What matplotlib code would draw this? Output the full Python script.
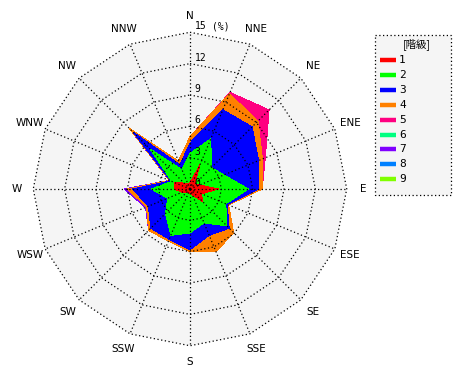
import numpy as np
import matplotlib
matplotlib.use("Agg")
import matplotlib.pyplot as plt
from matplotlib.patches import Polygon, Rectangle

plt.rcParams['font.family'] = ['DejaVu Sans', 'Noto Sans CJK JP']

# ---------------- data ----------------
directions = ["N", "NNE", "NE", "ENE", "E", "ESE", "SE", "SSE",
              "S", "SSW", "SW", "WSW", "W", "WNW", "NW", "NNW"]
class_labels = ["1", "2", "3", "4", "5", "6", "7", "8", "9"]
class_colors = ["#ff0000", "#00ff00", "#0000ff", "#ff8000", "#ff0080",
                "#00ff80", "#8000ff", "#0080ff", "#80ff00"]

# frequency (%) of each class per direction (N clockwise)
cls1 = [0.6, 2.5, 0.6, 1.0, 2.7, 1.2, 1.7, 0.6, 0.4, 0.4, 0.4, 0.8, 1.5, 1.6, 0.8, 0.5]
cls2 = [2.8, 2.7, 2.3, 2.5, 2.9, 2.5, 3.3, 2.9, 3.8, 4.4, 2.9, 1.5, 2.2, 0.3, 4.6, 1.5]
cls3 = [1.0, 3.0, 5.5, 3.6, 1.0, 0.15, 0.3, 1.3, 1.6, 0.4, 2.0, 2.0, 1.8, 0.1, 2.3, 0.5]
cls4 = [0.6, 1.65, 0.8, 0.4, 0.3, 0.15, 0.6, 1.7, 0.2, 0.2, 0.3, 0.2, 0.5, 0.1, 0.5, 0.4]
cls5 = [0.0, 0.15, 1.5, 0.3, 0.0, 0.0, 0.0, 0.0, 0.0, 0.0, 0.0, 0.0, 0.0, 0.0, 0.0, 0.0]
cls6 = [0.0, 0.0, 0.0, 0.0, 0.0, 0.0, 0.0, 0.0, 0.0, 0.0, 0.0, 0.0, 0.0, 0.0, 0.0, 0.0]
cls7 = [0.0, 0.0, 0.0, 0.0, 0.0, 0.0, 0.0, 0.0, 0.0, 0.0, 0.0, 0.1, 0.3, 0.05, 0.0, 0.0]
cls8 = [0.0, 0.0, 0.0, 0.0, 0.0, 0.0, 0.0, 0.0, 0.0, 0.0, 0.0, 0.0, 0.0, 0.0, 0.0, 0.0]
cls9 = [0.0, 0.0, 0.0, 0.0, 0.0, 0.0, 0.0, 0.0, 0.0, 0.0, 0.0, 0.0, 0.0, 0.0, 0.0, 0.0]
classes = [cls1, cls2, cls3, cls4, cls5, cls6, cls7, cls8, cls9]

ring_values = [3, 6, 9, 12, 15]
ring_labels = ["3", "6", "9", "12", "15"]
unit_label = "(%)"
legend_title = "[階級]"

# ---------------- figure ----------------
W_PX, H_PX = 470, 380
fig = plt.figure(figsize=(W_PX / 100, H_PX / 100), dpi=100)
fig.patch.set_facecolor("white")

R = 17.0           # axes half-range in data units (%)
PX = 10.45         # pixels per %
CX, CY = 190, 189  # center (pixels from left / top)
side = 2 * R * PX
ax = fig.add_axes([(CX - R * PX) / W_PX, (H_PX - CY - R * PX) / H_PX,
                   side / W_PX, side / H_PX])
ax.set_xlim(-R, R)
ax.set_ylim(-R, R)
ax.axis("off")

theta = np.deg2rad(np.arange(len(directions)) * 360.0 / len(directions))
sx, sy = np.sin(theta), np.cos(theta)

rmax = ring_values[-1]
ax.add_patch(Polygon(np.column_stack([rmax * sx, rmax * sy]), closed=True,
                     facecolor="#f5f5f5", edgecolor="none", zorder=0))

cum = np.cumsum(np.array(classes, dtype=float), axis=0)
for k in range(len(classes) - 1, -1, -1):
    r = cum[k]
    ax.add_patch(Polygon(np.column_stack([r * sx, r * sy]), closed=True,
                         facecolor=class_colors[k], edgecolor="none",
                         antialiased=False, zorder=1 + (len(classes) - k) * 0.01))

dot = (0, (1, 2))
for rv in ring_values:
    xs = np.append(rv * sx, rv * sx[0])
    ys = np.append(rv * sy, rv * sy[0])
    ax.plot(xs, ys, color="black", lw=0.9, ls=dot, zorder=3)
for i in range(len(directions)):
    ax.plot([0, rmax * sx[i]], [0, rmax * sy[i]], color="black", lw=0.9, ls=dot, zorder=3)

for rv, lab in zip(ring_values, ring_labels):
    ax.text(0.45, rv + 0.1, lab, fontsize=7, ha="left", va="bottom", zorder=4,
            family="DejaVu Sans Mono")
ax.text(2.1, rmax + 0.1, unit_label, fontsize=7, ha="left", va="bottom", zorder=4,
        family="DejaVu Sans Mono")
ax.text(0.45, 0.1, "0", fontsize=7, ha="left", va="bottom", zorder=4,
        family="DejaVu Sans Mono")

lab_r = 16.6
for i, d in enumerate(directions):
    ax.text(lab_r * sx[i], lab_r * sy[i], d, fontsize=7.5, ha="center", va="center",
            clip_on=False)

# ---------------- legend ----------------
lax = fig.add_axes([0, 0, 1, 1])
lax.set_xlim(0, W_PX)
lax.set_ylim(H_PX, 0)
lax.axis("off")
lax.patch.set_alpha(0)
lax.add_patch(Rectangle((375, 35), 76, 160, facecolor="#f5f5f5",
                        edgecolor="black", lw=0.9, ls=dot))
lax.text(417, 44, legend_title, fontsize=7.5, ha="center", va="center",
         family=["Noto Sans CJK JP", "DejaVu Sans"])
for i, (lab, col) in enumerate(zip(class_labels, class_colors)):
    y = 60 + i * 14.9
    lax.plot([380, 396], [y, y], color=col, lw=3.2, solid_capstyle="butt")
    lax.text(399, y, lab, fontsize=8, ha="left", va="center", family="DejaVu Sans Mono")

fig.savefig("out.png", dpi=100)
